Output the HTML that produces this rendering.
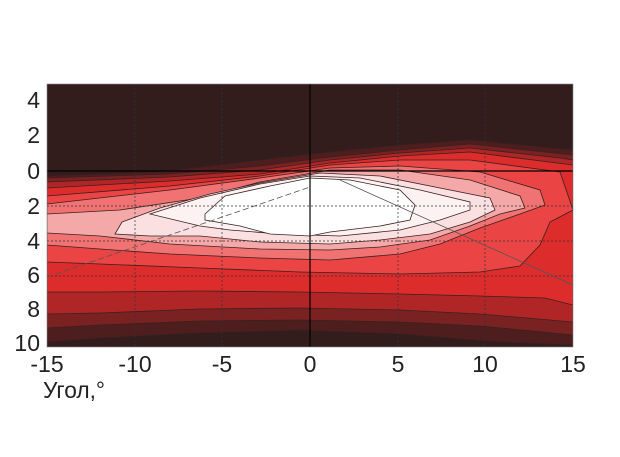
<!DOCTYPE html>
<html><head><meta charset="utf-8"><style>
html,body{margin:0;padding:0;background:#fff;}
svg{display:block;}
</style></head><body>
<svg width="620" height="457" xmlns="http://www.w3.org/2000/svg">
<defs><clipPath id="c"><rect x="47" y="84" width="526" height="263"/></clipPath></defs>
<g clip-path="url(#c)" stroke="#3a2020" stroke-width="0.8">
<rect x="47" y="84" width="526" height="263" fill="#331c1c" stroke="none"/>
<path d="M47,176 L160,172 L260,160 L330,152 L400,145 L470,140 L573,150 L573,345 L500,342 L400,334 L300,330 L200,333 L100,338 L47,342 Z" fill="#4e1e1e"/>
<path d="M47,178 L170,174 L260,166 L330,157 L400,150 L470,144 L573,155 L573,335 L480,326 L400,322 L300,320 L200,321 L100,325 L47,328 Z" fill="#7a2222"/>
<path d="M47,182 L170,177 L260,170 L330,160 L400,153 L470,148 L560,158 L573,160 L573,322 L480,314 L400,310 L300,308 L200,309 L100,313 L47,314 Z" fill="#b02626"/>
<path d="M47,188 L170,181 L260,174 L330,163 L400,156 L470,152 L573,165 L573,305 L545,298 L480,296 L400,294 L300,292 L200,291 L100,292 L47,292 Z" fill="#dd2c2c"/>
<path d="M47,196 L170,186 L260,176 L330,165 L400,160 L470,160 L560,172 L573,210 L550,222 L540,245 L520,266 L480,272 L400,274 L300,272 L200,268 L100,264 L47,262 Z" fill="#ea4444"/>
<path d="M47,204 L170,190 L260,178 L330,168 L400,166 L480,172 L540,190 L545,205 L520,214 L480,228 L440,244 L400,254 L330,260 L260,258 L170,254 L100,249 L47,245 Z" fill="#f07272"/>
<path d="M47,214 L120,210 L200,198 L260,182 L330,170 L400,170 L470,180 L520,196 L525,208 L500,214 L470,226 L430,240 L380,247 L330,250 L260,249 L170,244 L100,236 L47,233 Z" fill="#f5a8a8"/>
<path d="M115,234 L122,222 L160,208 L210,194 L260,183 L320,173 L380,176 L440,188 L490,198 L495,210 L470,222 L430,234 L380,240 L330,244 L260,242 L200,236 L150,236 Z" fill="#fae0e0"/>
<path d="M150,214 L200,198 L260,184 L310,176 L360,178 L420,190 L470,202 L470,210 L440,220 L400,230 L340,236 L280,234 L230,230 L200,226 Z" fill="#fdf2f2"/>
<path d="M205,214 L225,196 L270,186 L310,178 L350,180 L400,190 L415,205 L410,220 L380,226 L330,232 L310,236 L270,234 L240,226 L205,220 Z" fill="#ffffff"/>
<g stroke="#333" stroke-width="0.7" stroke-dasharray="2,2" fill="none">
<line x1="135" y1="84" x2="135" y2="347"/><line x1="222" y1="84" x2="222" y2="347"/>
<line x1="398" y1="84" x2="398" y2="347"/><line x1="485" y1="84" x2="485" y2="347"/>
<line x1="47" y1="206" x2="573" y2="206"/><line x1="47" y1="241" x2="573" y2="241"/><line x1="47" y1="276" x2="573" y2="276"/>
</g>
<line x1="310" y1="84" x2="310" y2="347" stroke="#000" stroke-width="1.2"/>
<line x1="47" y1="171" x2="573" y2="171" stroke="#000" stroke-width="1.2"/>
<line x1="47" y1="277" x2="310" y2="187" stroke="#555" stroke-width="0.8" stroke-dasharray="6,3"/>
<line x1="340" y1="180" x2="573" y2="285" stroke="#555" stroke-width="0.8"/>
</g>
<rect x="47" y="84" width="526" height="263" fill="none" stroke="#888" stroke-width="0.6"/>
<g font-family="Liberation Sans, sans-serif" font-size="23" fill="#222" text-anchor="end">
<text x="40" y="108">4</text><text x="40" y="143">2</text><text x="40" y="179">0</text>
<text x="40" y="214">2</text><text x="40" y="249">4</text><text x="40" y="283">6</text>
<text x="40" y="317">8</text><text x="40" y="351">10</text>
</g>
<g font-family="Liberation Sans, sans-serif" font-size="23" fill="#222" text-anchor="middle">
<text x="47" y="372">-15</text><text x="135" y="372">-10</text><text x="222" y="372">-5</text>
<text x="310" y="372">0</text><text x="398" y="372">5</text><text x="485" y="372">10</text><text x="573" y="372">15</text>
</g>
<text x="43" y="398" font-family="Liberation Sans, sans-serif" font-size="23" fill="#222" textLength="62" lengthAdjust="spacingAndGlyphs">Угол,°</text>
</svg>
</body></html>
